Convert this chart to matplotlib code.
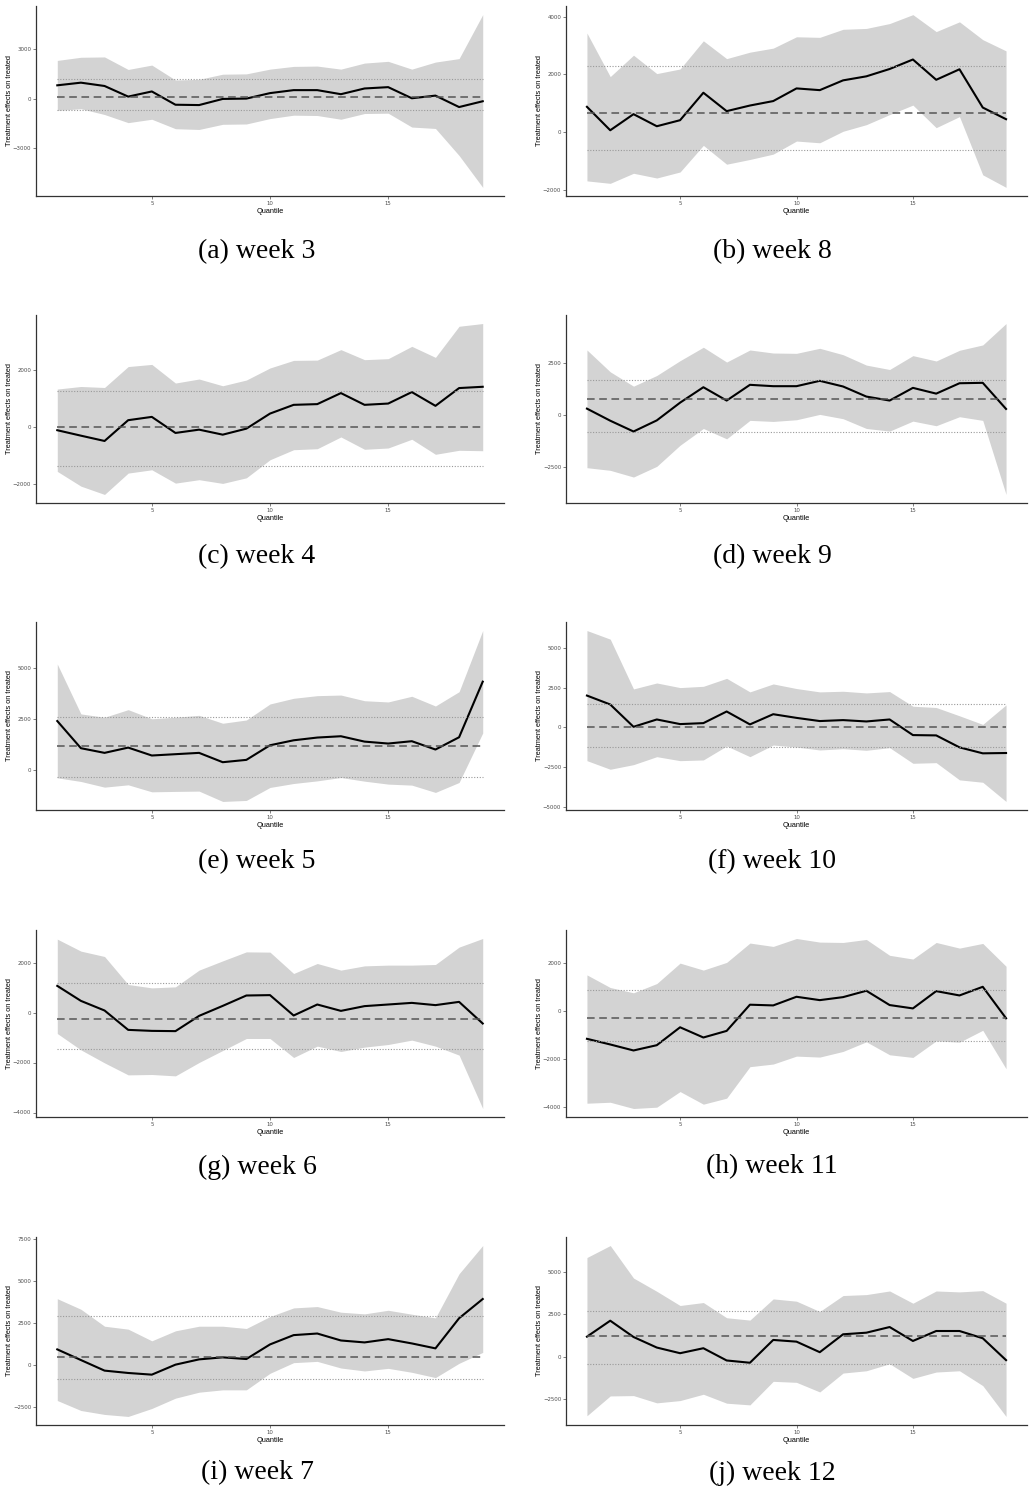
import numpy as np
import matplotlib
matplotlib.use("Agg")
import matplotlib.pyplot as plt

# quantiles 1..19
quantiles = np.arange(1, 20)

# week 3
w3_est = [800, 960, 760, 120, 430, -370, -390, -20, 0, 330, 510, 510, 265, 610, 690, 20, 180, -510, -160]
w3_hi = [2300, 2490, 2510, 1755, 2020, 1120, 1160, 1470, 1490, 1775, 1940, 1960, 1775, 2140, 2245, 1775, 2200, 2410, 5060]
w3_lo = [-715, -610, -960, -1450, -1245, -1815, -1860, -1550, -1530, -1205, -1000, -1020, -1245, -900, -880, -1715, -1800, -3430, -5350]
w3_ref = [80, 1160, -690]
w3_ticks = [-3000, 0, 3000]

# week 8
w8_est = [875, 60, 620, 200, 410, 1365, 725, 920, 1075, 1515, 1455, 1795, 1935, 2190, 2520, 1815, 2180, 850, 445]
w8_hi = [3440, 1925, 2670, 2030, 2190, 3170, 2550, 2775, 2915, 3310, 3290, 3570, 3600, 3770, 4080, 3490, 3830, 3210, 2820]
w8_lo = [-1700, -1785, -1435, -1600, -1390, -465, -1120, -955, -770, -315, -375, 25, 255, 605, 935, 150, 535, -1490, -1925]
w8_ref = [675, 2285, -630]
w8_ticks = [-2000, 0, 2000, 4000]

# week 4
w4_est = [-115, -305, -490, 235, 350, -210, -95, -270, -60, 465, 770, 795, 1180, 770, 815, 1215, 735, 1355, 1400]
w4_hi = [1320, 1410, 1375, 2105, 2180, 1530, 1670, 1435, 1635, 2055, 2320, 2330, 2695, 2345, 2380, 2810, 2425, 3510, 3605]
w4_lo = [-1550, -2065, -2355, -1610, -1495, -1960, -1840, -1970, -1775, -1145, -795, -760, -350, -780, -735, -430, -955, -815, -830]
w4_ref = [0, 1260, -1355]
w4_ticks = [-2000, 0, 2000]

# week 9
w9_est = [305, -270, -785, -255, 590, 1325, 690, 1440, 1375, 1375, 1630, 1360, 880, 690, 1295, 1020, 1515, 1535, 290]
w9_hi = [3100, 2060, 1375, 1885, 2590, 3230, 2525, 3100, 2955, 2940, 3180, 2875, 2380, 2170, 2830, 2575, 3085, 3340, 4360]
w9_lo = [-2510, -2635, -2955, -2445, -1440, -640, -1135, -255, -305, -225, 30, -175, -640, -765, -290, -510, -80, -255, -3785]
w9_ref = [780, 1680, -785]
w9_ticks = [-2500, 0, 2500]

# week 5
w5_est = [2390, 1050, 820, 1080, 690, 755, 820, 360, 475, 1195, 1440, 1575, 1640, 1375, 1280, 1395, 985, 1590, 4330]
w5_hi = [5200, 2740, 2575, 2950, 2500, 2575, 2670, 2280, 2440, 3230, 3510, 3640, 3670, 3390, 3330, 3610, 3130, 3835, 6850]
w5_lo = [-410, -590, -870, -755, -1100, -1080, -1065, -1575, -1525, -885, -690, -560, -395, -575, -720, -770, -1130, -640, 1800]
w5_ref = [1165, 2590, -360]
w5_ticks = [0, 2500, 5000]

# week 10
w10_est = [2000, 1440, 40, 500, 210, 270, 1000, 190, 830, 600, 400, 460, 375, 500, -480, -500, -1250, -1625, -1605]
w10_hi = [6080, 5540, 2415, 2790, 2500, 2580, 3080, 2230, 2730, 2440, 2230, 2270, 2165, 2250, 1330, 1250, 730, 190, 1415]
w10_lo = [-2085, -2625, -2335, -1835, -2085, -2040, -1165, -1835, -1105, -1230, -1415, -1335, -1435, -1270, -2250, -2210, -3290, -3440, -4645]
w10_ref = [20, 1440, -1250]
w10_ticks = [-5000, -2500, 0, 2500, 5000]

# week 6
w6_est = [1065, 465, 80, -695, -735, -745, -135, 265, 680, 695, -120, 320, 65, 255, 320, 385, 295, 425, -440]
w6_hi = [2935, 2455, 2240, 1120, 985, 1025, 1695, 2065, 2425, 2415, 1560, 1960, 1695, 1865, 1895, 1895, 1920, 2615, 2960]
w6_lo = [-840, -1495, -2015, -2495, -2480, -2535, -2000, -1520, -1040, -1040, -1800, -1345, -1560, -1385, -1280, -1105, -1345, -1705, -3840]
w6_ref = [-265, 1200, -1455]
w6_ticks = [-4000, -2000, 0, 2000]

# week 11
w11_est = [-1170, -1405, -1655, -1435, -690, -1115, -840, 250, 220, 580, 440, 565, 830, 235, 95, 815, 635, 995, -315]
w11_hi = [1490, 965, 745, 1130, 1980, 1690, 2010, 2815, 2675, 3005, 2855, 2840, 2965, 2305, 2150, 2840, 2605, 2800, 1850]
w11_lo = [-3850, -3810, -4070, -4015, -3365, -3890, -3640, -2330, -2220, -1890, -1930, -1695, -1295, -1835, -1945, -1255, -1310, -815, -2415]
w11_ref = [-315, 870, -1255]
w11_ticks = [-4000, -2000, 0, 2000]

# week 7
w7_est = [930, 295, -335, -475, -575, 20, 335, 455, 355, 1225, 1780, 1875, 1460, 1345, 1540, 1285, 990, 2785, 3930]
w7_hi = [3950, 3320, 2310, 2135, 1440, 2035, 2310, 2310, 2175, 2885, 3400, 3480, 3145, 3045, 3260, 3025, 2805, 5435, 7115]
w7_lo = [-2115, -2710, -2945, -3065, -2590, -1975, -1620, -1480, -1480, -495, 140, 215, -180, -355, -200, -435, -750, 100, 750]
w7_ref = [475, 2925, -810]
w7_ticks = [-2500, 0, 2500, 5000, 7500]

# week 12
w12_est = [1175, 2120, 1155, 530, 195, 490, -235, -370, 980, 880, 255, 1315, 1410, 1745, 920, 1510, 1510, 1080, -215]
w12_hi = [5860, 6570, 4645, 3860, 3020, 3195, 2295, 2155, 3410, 3275, 2665, 3610, 3665, 3880, 3155, 3880, 3825, 3900, 3155]
w12_lo = [-3510, -2335, -2315, -2745, -2610, -2235, -2765, -2865, -1470, -1530, -2100, -980, -845, -430, -1295, -920, -845, -1725, -3550]
w12_ref = [1235, 2665, -430]
w12_ticks = [-2500, 0, 2500, 5000]

captions = ["(a) week 3", "(b) week 8", "(c) week 4", "(d) week 9", "(e) week 5",
            "(f) week 10", "(g) week 6", "(h) week 11", "(i) week 7", "(j) week 12"]

panels = [
    (w3_est, w3_hi, w3_lo, w3_ref, w3_ticks),
    (w8_est, w8_hi, w8_lo, w8_ref, w8_ticks),
    (w4_est, w4_hi, w4_lo, w4_ref, w4_ticks),
    (w9_est, w9_hi, w9_lo, w9_ref, w9_ticks),
    (w5_est, w5_hi, w5_lo, w5_ref, w5_ticks),
    (w10_est, w10_hi, w10_lo, w10_ref, w10_ticks),
    (w6_est, w6_hi, w6_lo, w6_ref, w6_ticks),
    (w11_est, w11_hi, w11_lo, w11_ref, w11_ticks),
    (w7_est, w7_hi, w7_lo, w7_ref, w7_ticks),
    (w12_est, w12_hi, w12_lo, w12_ref, w12_ticks),
]

W, H = 1029, 1501
fig = plt.figure(figsize=(W / 100, H / 100), dpi=100)

col_x = [(36, 504), (566, 1027)]
row_y = [(6, 196), (315, 503), (622, 810), (930, 1117), (1237, 1425)]
cap_y = [252, 557, 862, 1167, 1473]
cap_x = [257, 772]

for i, (est, hi, lo, ref, ticks) in enumerate(panels):
    r, c = divmod(i, 2)
    x0, x1 = col_x[c]
    y0, y1 = row_y[r]
    ax = fig.add_axes([x0 / W, 1 - y1 / H, (x1 - x0) / W, (y1 - y0) / H])

    ax.fill_between(quantiles, lo, hi, color="#d3d3d3", linewidth=0)
    ax.plot(quantiles, est, color="black", linewidth=1.5)
    ax.axhline(ref[0], xmin=0.0455, xmax=0.9545, color="#555555", linewidth=1.1, linestyle=(0, (5, 3)))
    for v in ref[1:]:
        ax.axhline(v, xmin=0.0455, xmax=0.9545, color="#999999", linewidth=0.8, linestyle=(0, (1, 1.5)))

    # ggplot-like 5% expansion
    vals = np.concatenate([lo, hi, ref])
    span = vals.max() - vals.min()
    ax.set_ylim(vals.min() - 0.05 * span, vals.max() + 0.05 * span)
    ax.set_xlim(0.1, 19.9)

    ax.set_xticks([5, 10, 15])
    ax.set_yticks(ticks)
    ax.tick_params(labelsize=3.9, colors="#4d4d4d", length=2, width=0.5, pad=1.5)
    for s in ["top", "right"]:
        ax.spines[s].set_visible(False)
    for s in ["left", "bottom"]:
        ax.spines[s].set_color("#333333")
        ax.spines[s].set_linewidth(0.9)
    ax.set_xlabel("Quantile", fontsize=5.3, family="Liberation Sans", labelpad=1.5)
    ax.set_ylabel("Treatment effects on treated", fontsize=5.3, family="Liberation Sans")
    ax.yaxis.set_label_coords(-0.049, 0.5)

    fig.text(cap_x[c] / W, 1 - cap_y[r] / H, captions[i], ha="center", va="center",
             fontsize=20, family="Liberation Serif")

fig.savefig("out.png", dpi=100)
